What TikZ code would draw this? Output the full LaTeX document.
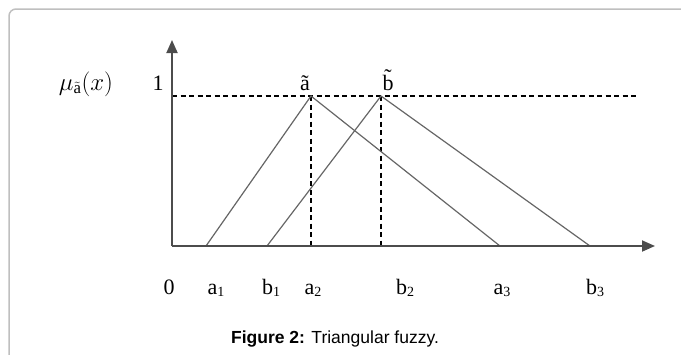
\documentclass[tikz,border=0pt]{standalone}
\usepackage{fontspec}
\setmainfont{Liberation Serif}
\newfontfamily\capfont{Liberation Sans}
\usetikzlibrary{arrows.meta}
\newcommand{\lbl}[2]{#1\raisebox{-0.25ex}{\fontsize{14}{14}\selectfont #2}}
\begin{document}
\begin{tikzpicture}[x=1pt,y=-1pt,
  axis/.style={draw=black!70,line width=1.8pt,-{Triangle[width=11pt,length=13pt]}},
  tri/.style={draw=black!60,line width=1.2pt},
  guide/.style={draw=black,line width=1.2pt,dash pattern=on 5pt off 3.5pt},
  tick/.style={font=\fontsize{22}{22}\selectfont,anchor=base},
  frame/.style={draw=black!25,line width=1.5pt,rounded corners=7pt}]
\useasboundingbox (0,0) rectangle (681,354);
\draw[frame] (9,380) -- (9,9) -- (700,9);
% key points
\coordinate (O) at (172,246);
\coordinate (ytip) at (172,40);
\coordinate (xtip) at (655,246);
\coordinate (one) at (172,96);
\coordinate (dend) at (638,96);
\coordinate (pa) at (311,96);
\coordinate (pb) at (381,96);
\coordinate (a1) at (206,246);
\coordinate (b1) at (267,246);
\coordinate (a2) at (311,246);
\coordinate (b2) at (381,246);
\coordinate (a3) at (500,246);
\coordinate (b3) at (590,246);
% dashed guides
\draw[guide] (one) -- (dend);
\draw[guide] (pa) -- (a2);
\draw[guide] (pb) -- (b2);
% triangles
\draw[tri] (a1) -- (pa) -- (a3);
\draw[tri] (b1) -- (pb) -- (b3);
% axes
\draw[axis] (O) -- (ytip);
\draw[axis] (O) -- (xtip);
% labels
\node[tick] (l0) at (169,294) {0};
\node[tick] (la1) at (216,294) {\lbl{a}{1}};
\node[tick] (lb1) at (271,294) {\lbl{b}{1}};
\node[tick] (la2) at (313,294) {\lbl{a}{2}};
\node[tick] (lb2) at (405,294) {\lbl{b}{2}};
\node[tick] (la3) at (502,294) {\lbl{a}{3}};
\node[tick] (lb3) at (595,294) {\lbl{b}{3}};
\node[tick] (lone) at (158,90) {1};
\node[tick] (lat) at (305,90) {\~{a}};
\node[tick] (lbt) at (388,90) {\~{b}};
\node[tick,font=\fontsize{24}{24}\selectfont] (mu) at (86,90) {$\mu_{\tilde{\mathrm{a}}}(x)$};
\node[font=\capfont\fontsize{17.5}{17.5}\selectfont] (cap) at (335,339) {\textbf{Figure 2:} Triangular fuzzy.};
\end{tikzpicture}
\end{document}
